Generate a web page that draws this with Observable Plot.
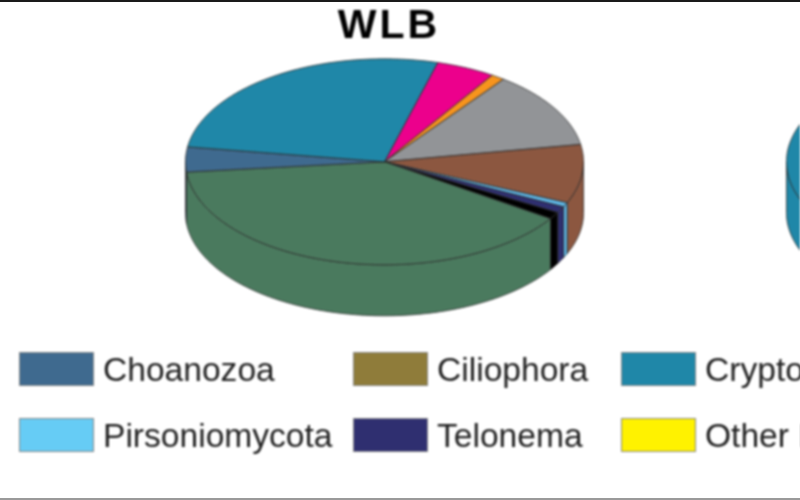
<!DOCTYPE html>
<html><head><meta charset="utf-8">
<script src="https://cdn.jsdelivr.net/npm/d3@7"></script>
<script src="https://cdn.jsdelivr.net/npm/@observablehq/plot@0.6"></script>
<style>
html,body{margin:0;padding:0;background:#fff;width:800px;height:500px;overflow:hidden}
#frame{position:relative;box-sizing:border-box;width:800px;height:500px;overflow:hidden;border-top:2px solid #1a1a1a;border-bottom:2px solid #9a9a9a;font-family:"Liberation Sans",sans-serif}
#title,#chart,#legend{filter:blur(.8px)}
#title{height:46px;line-height:45px;text-align:center;font-weight:700;font-size:41px;letter-spacing:3px;color:#000;margin-left:-22px}
#chart svg{display:block}
#legend{position:absolute;left:19px;top:350px;display:grid;grid-template-columns:334px 268px 400px;grid-auto-rows:66px;white-space:nowrap}
.item{display:flex;align-items:flex-start;height:34px}
.sw{box-sizing:border-box;width:75px;height:34px;border:1px solid #888;flex:none}
.lb{margin-left:9px;font-size:33.6px;line-height:36px;color:#222}
</style></head><body>
<div id="frame"><div id="title"></div><div id="chart"></div><div id="legend"></div></div>
<script>
const titleText = "WLB";
// WLB slices, percent, clockwise from the Cryptomycota / magenta edge
const sliceNames  = ["magenta slice","orange slice","gray slice","brown slice","Pirsoniomycota","Telonema","black slice","green slice","Choanozoa","Cryptomycota"];
const sliceValues = [4.8,1.1,12.1,9.2,0.7,1.0,1.1,39.1,3.9,27];
const sliceColors = ["#ec008c","#f7941d","#929497","#8c5740","#5fb8e8","#2f2f70","#000000","#4a7a5e","#3f6a8f","#1f87a8"];
const startDegrees = 15.5;
// second pie: only its Cryptomycota part falls inside the frame
const secondNames  = ["Cryptomycota"];
const secondValues = [50];
const secondStartDegrees = 180;
const legendNames  = ["Choanozoa","Ciliophora","Cryptomycota","Pirsoniomycota","Telonema","Other Eukaryotes"];
const legendColors = ["#3f6a8f","#8f7c3a","#1f87a8","#66ccf5","#2f2f70","#fff200"];

const depth = 0.495, offsetSecond = 3.02;
function slices(values, names, startDeg, total, cx, id){
  const pie = d3.pie().sort(null).startAngle(startDeg*Math.PI/180)
    .endAngle(startDeg*Math.PI/180 + 2*Math.PI*d3.sum(values)/total);
  return pie(values).map((a,i)=>({name:names[i],a0:a.startAngle,a1:a.endAngle,cx,id:id+i}));
}
const rim = (s,a,dy)=>({x:s.cx+Math.sin(a),y:-Math.cos(a)+dy,name:s.name,key:s.id});
function arcPts(s,a0,a1,dy){
  const n=Math.max(2,Math.ceil((a1-a0)/0.01));
  return d3.range(n+1).map(i=>rim(s,a0+(a1-a0)*i/n,dy));
}
const all = [...slices(sliceValues,sliceNames,startDegrees,100,0,"a"),
             ...slices(secondValues,secondNames,secondStartDegrees,100,offsetSecond,"b")];
const wallPts = all.flatMap(s=>{
  const lo=Math.max(s.a0,Math.PI/2), hi=Math.min(s.a1,3*Math.PI/2);
  if(hi<=lo) return [];
  const top=arcPts(s,lo,hi,0), bot=arcPts(s,lo,hi,depth).reverse();
  return [...top,...bot,top[0]];
});
const topPts = all.flatMap(s=>{
  const c={x:s.cx,y:0,name:s.name,key:s.id};
  return [c,...arcPts(s,s.a0,s.a1,0),c];
});
const W=800,H=275,cxPx=384,cyPx=113.3,rx=199,ry=103;
const chart = Plot.plot({
  width:W,height:H,margin:0,
  x:{domain:[-cxPx/rx,(W-cxPx)/rx],range:[0,W],axis:null},
  y:{domain:[-cyPx/ry,(H-cyPx)/ry],range:[0,H],axis:null},
  color:{domain:sliceNames,range:sliceColors},
  marks:[
    Plot.line(wallPts,{x:"x",y:"y",z:"key",fill:"name",stroke:"#2a2a2a",strokeWidth:0.8,clip:true}),
    Plot.line(topPts,{x:"x",y:"y",z:"key",fill:"name",stroke:"#2a2a2a",strokeWidth:0.8,clip:true})
  ]
});
document.getElementById("chart").append(chart);
document.getElementById("title").textContent=titleText;
const lg=document.getElementById("legend");
legendNames.forEach((n,i)=>{
  const it=document.createElement("div");it.className="item";
  const sw=document.createElement("div");sw.className="sw";sw.style.background=legendColors[i];
  const lb=document.createElement("div");lb.className="lb";lb.textContent=n;
  it.append(sw,lb);lg.append(it);
});
</script>
</body></html>
